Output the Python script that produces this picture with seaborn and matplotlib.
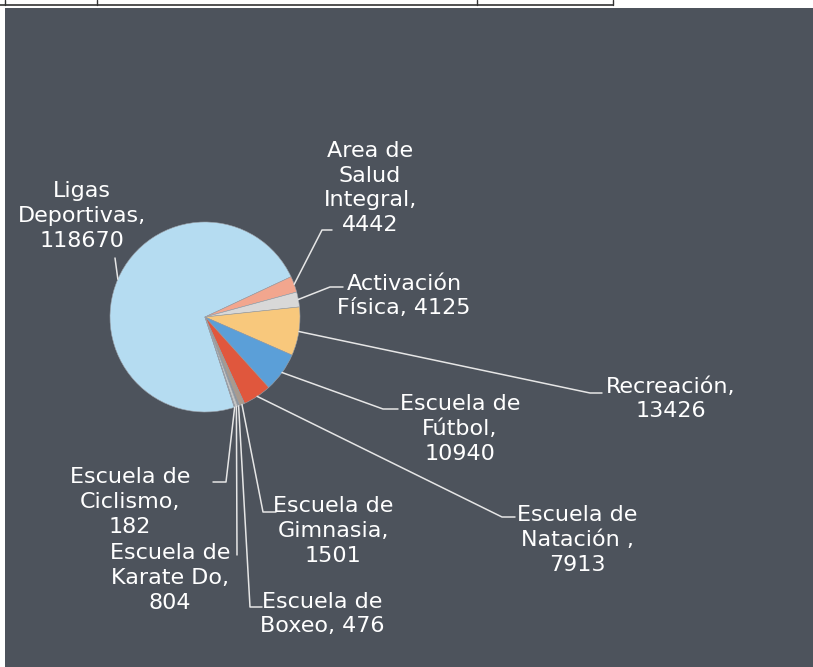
import matplotlib
matplotlib.use("Agg")
import matplotlib.pyplot as plt
import seaborn as sns
import numpy as np
from matplotlib.patches import Rectangle

# ---- data ----
categories = ["Ligas\nDeportivas,\n118670", "Area de\nSalud\nIntegral,\n4442",
              "Activación\nFísica, 4125", "Recreación,\n13426",
              "Escuela de\nFútbol,\n10940", "Escuela de\nNatación ,\n7913",
              "Escuela de\nGimnasia,\n1501", "Escuela de\nBoxeo, 476",
              "Escuela de\nKarate Do,\n804", "Escuela de\nCiclismo,\n182"]
values = [118670, 4442, 4125, 13426, 10940, 7913, 1501, 476, 804, 182]
colors = ["#b5dcf1", "#f2a68e", "#d8d8d8", "#f8c87c", "#5b9fd8", "#e0573d",
          "#a99a8e", "#8d949c", "#c4c4c4", "#9aa3ad"]

# label layout (pixel coords): text centre, leader elbow, leader end
label_pos = [(82, 216), (370, 188), (404, 296), (671, 399), (460, 429),
             (577, 540), (333, 531), (322, 614), (170, 578), (130, 502)]
elbows = [(115, 258), (322, 230), (330, 287), (590, 393), (383, 409),
          (502, 517), (263, 512), (250, 607), (237, 555), (226, 482)]
ends = [None, (332, 230), (343, 287), (602, 393), (398, 409),
        (515, 517), (276, 512), (262, 607), None, (213, 482)]

W, H = 813, 667
sns.set_theme(style="white")
plt.rcParams["font.family"] = ["DejaVu Sans"]

fig = plt.figure(figsize=(W / 100, H / 100), dpi=100)
fig.patch.set_facecolor("white")
ax = fig.add_axes([0, 0, 1, 1])
ax.set_xlim(0, W)
ax.set_ylim(0, H)
ax.set_aspect("equal")
ax.axis("off")

def Y(y):
    return H - y

# background panel and scanned table fragment
ax.add_patch(Rectangle((5, 0), W - 5, Y(8), facecolor="#4d535c", edgecolor="none", zorder=0))
ax.plot([0, 613], [Y(5), Y(5)], color="#333333", lw=1.2, zorder=1)
for xv in [5, 97, 477, 613]:
    ax.plot([xv, xv], [Y(0), Y(5)], color="#333333", lw=1.0, zorder=1)

cx, cy, r = 205, 317, 95
wedges, _ = ax.pie(values, colors=colors, startangle=288, counterclock=False,
                   center=(cx, Y(cy)), radius=r, frame=True,
                   wedgeprops=dict(edgecolor="#9aa0a8", linewidth=0.4))
ax.set_xlim(0, W)
ax.set_ylim(0, H)
ax.axis("off")

for w, lab, (tx, ty), el, en in zip(wedges, categories, label_pos, elbows, ends):
    ang = np.deg2rad((w.theta1 + w.theta2) / 2)
    px, py = cx + r * np.cos(ang), Y(cy) + r * np.sin(ang)
    xs, ys = [px, el[0]], [py, Y(el[1])]
    if en is not None:
        xs.append(en[0]); ys.append(Y(en[1]))
    ax.plot(xs, ys, color="#e6e6e6", lw=1.1, zorder=3)
    ax.text(tx, Y(ty), lab, ha="center", va="center", color="white",
            fontsize=16, linespacing=1.3, zorder=4)

fig.savefig("out.png", dpi=100)
